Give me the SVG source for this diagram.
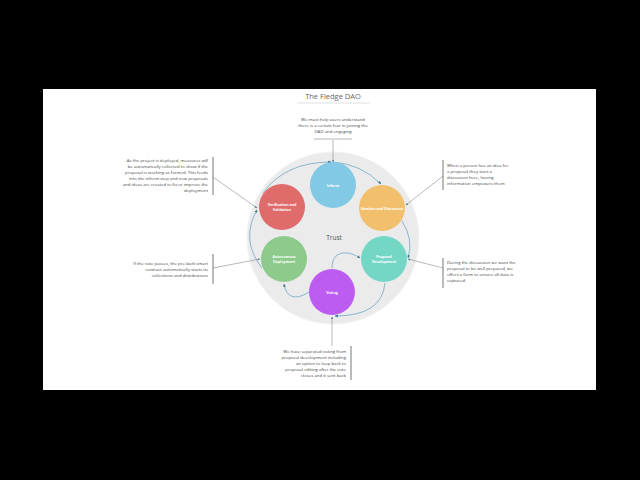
<svg xmlns="http://www.w3.org/2000/svg" width="640" height="480" viewBox="0 0 640 480">
<style>
.note{font-family:"Open Sans","Liberation Sans",sans-serif;font-size:4.3px;fill:#444}
.lbl{font-family:"Open Sans","Liberation Sans",sans-serif;font-size:3.6px;font-weight:bold;fill:#fff;text-anchor:middle}
.flow{fill:none;stroke:#6fa8c4;stroke-width:0.8}
.ann{fill:none;stroke:#8a8a8a;stroke-width:0.6}
.bar{stroke:#666;stroke-width:0.9}
</style>
<defs>
<marker id="ah" viewBox="0 0 10 10" refX="9" refY="5" markerWidth="4" markerHeight="4" orient="auto">
<path d="M0 1 L10 5 L0 9 Z" fill="#2f6f8f"/>
</marker>
</defs>
<rect x="0" y="0" width="640" height="480" fill="#000"/>
<rect x="43" y="89" width="553" height="301" fill="#fff"/>

<g id="title">
<text x="333" y="99" font-family="'Open Sans','Liberation Sans',sans-serif" font-size="7.5" fill="#666" text-anchor="middle">The Fledge DAO</text>
<line x1="297" y1="103" x2="370" y2="103" stroke="#ccc" stroke-width="0.6"/>
</g>

<g id="trust">
<circle cx="333" cy="238" r="86" fill="#ebebeb" stroke="#f3f3f3" stroke-width="1"/>
<text x="334" y="240" font-family="'Open Sans','Liberation Sans',sans-serif" font-size="6.5" fill="#555" text-anchor="middle">Trust</text>
</g>

<g id="connectors">
<path class="flow" d="M333 162 A76 76 0 0 1 381 184" marker-end="url(#ah)"/>
<path class="flow" d="M402 221 Q414 240 408 258" marker-end="url(#ah)"/>
<path class="flow" d="M385 283 Q382 316 335 316" marker-end="url(#ah)"/>
<path class="flow" d="M332 268 C332 250 348 250 360 258" marker-end="url(#ah)"/>
<path class="flow" d="M309 292 Q288 305 284 284" marker-end="url(#ah)"/>
<path class="flow" d="M262 268 Q240 240 257 210" marker-end="url(#ah)"/>
<path class="flow" d="M263 193 Q285 162 331 162" marker-end="url(#ah)"/>
<path class="ann" d="M333 140 L333 162" marker-end="url(#ah)"/>
<path class="ann" d="M213 177 L257 208" marker-end="url(#ah)"/>
<path class="ann" d="M443 176 L406 205" marker-end="url(#ah)"/>
<path class="ann" d="M213 268 L260 259" marker-end="url(#ah)"/>
<path class="ann" d="M443 268 L408 259" marker-end="url(#ah)"/>
<path class="ann" d="M332 346 L332 317" marker-end="url(#ah)"/>
</g>

<g id="inform">
<circle cx="333" cy="185" r="23" fill="#82c9e6"/>
<text class="lbl" x="333" y="186.5">Inform</text>
</g>
<g id="ideation">
<circle cx="382" cy="208" r="23" fill="#f2bf6c"/>
<text class="lbl" x="382" y="209.5">Ideation and Discussion</text>
</g>
<g id="proposal">
<circle cx="384" cy="259" r="23" fill="#74d7c6"/>
<text class="lbl" x="384" y="258">Proposal</text>
<text class="lbl" x="384" y="262.5">Development</text>
</g>
<g id="voting">
<circle cx="332" cy="292" r="23" fill="#bd5cf0"/>
<text class="lbl" x="332" y="293.5">Voting</text>
</g>
<g id="autonomous">
<circle cx="284" cy="259" r="23" fill="#8dca8b"/>
<text class="lbl" x="284" y="258">Autonomous</text>
<text class="lbl" x="284" y="262.5">Deployment</text>
</g>
<g id="verification">
<circle cx="282" cy="207" r="23" fill="#e06b6b"/>
<text class="lbl" x="282" y="206">Verification and</text>
<text class="lbl" x="282" y="210.5">Validation</text>
</g>

<g id="note-top">
<text class="note" text-anchor="middle"><tspan x="333" y="121">We must help users understand</tspan><tspan x="333" y="127">there is a certain fear in joining the</tspan><tspan x="333" y="133">DAO and engaging</tspan></text>
<line x1="314" y1="139" x2="352" y2="139" stroke="#888" stroke-width="0.6"/>
</g>
<g id="note-verification">
<text class="note" text-anchor="end"><tspan x="208" y="162">As the project is deployed, measures will</tspan><tspan x="208" y="168">be automatically collected to show if the</tspan><tspan x="208" y="174">proposal is working as formed. This feeds</tspan><tspan x="208" y="180">into the inform step and new proposals</tspan><tspan x="208" y="186">and ideas are created to fix or improve the</tspan><tspan x="208" y="192">deployment</tspan></text>
<line class="bar" x1="213" y1="157" x2="213" y2="195"/>
</g>
<g id="note-ideation">
<text class="note"><tspan x="447" y="167">When a person has an idea for</tspan><tspan x="447" y="173">a proposal they start a</tspan><tspan x="447" y="179">discussion here, having</tspan><tspan x="447" y="185">information empowers them</tspan></text>
<line class="bar" x1="443" y1="160" x2="443" y2="190"/>
</g>
<g id="note-autonomous">
<text class="note" text-anchor="end"><tspan x="208" y="265">If the vote passes, the pre-built smart</tspan><tspan x="208" y="271">contract automatically starts its</tspan><tspan x="208" y="277">collections and distributions</tspan></text>
<line class="bar" x1="213" y1="254" x2="213" y2="284"/>
</g>
<g id="note-proposal">
<text class="note"><tspan x="447" y="264">During the discussion we want the</tspan><tspan x="447" y="270">proposal to be well prepared, we</tspan><tspan x="447" y="276">offers a form to ensure all data is</tspan><tspan x="447" y="282">captured</tspan></text>
<line class="bar" x1="443" y1="258" x2="443" y2="288"/>
</g>
<g id="note-voting">
<text class="note" text-anchor="end"><tspan x="346" y="353">We have separated voting from</tspan><tspan x="346" y="359">proposal development including</tspan><tspan x="346" y="365">an option to loop back to</tspan><tspan x="346" y="371">proposal editing after the vote</tspan><tspan x="346" y="377">closes and it sent back</tspan></text>
<line class="bar" x1="351" y1="346" x2="351" y2="380"/>
</g>
</svg>
